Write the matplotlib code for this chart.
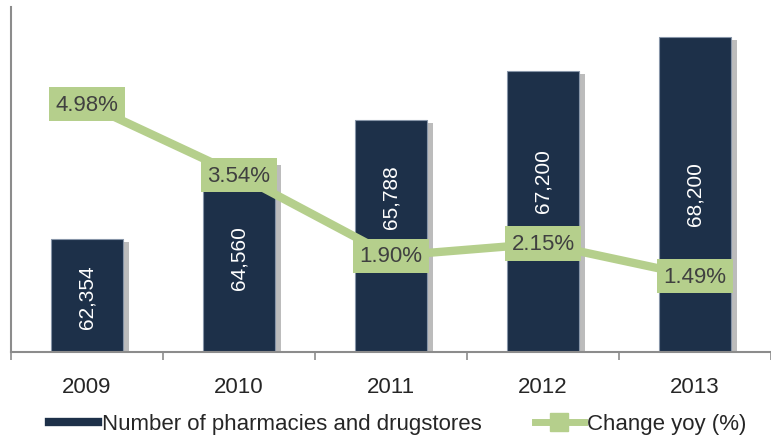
import numpy as np
import matplotlib.pyplot as plt
from matplotlib.lines import Line2D
import matplotlib.patheffects as pe
import matplotlib.transforms as mtransforms

plt.rcParams['font.family'] = ['Liberation Sans', 'DejaVu Sans']

# data
years = ['2009', '2010', '2011', '2012', '2013']
stores = [62354, 64560, 65788, 67200, 68200]
store_labels = ['62,354', '64,560', '65,788', '67,200', '68,200']
change = [4.98, 3.54, 1.90, 2.15, 1.49]

# where the value labels sit inside the bars (axes fraction, moved off the green boxes)
label_pos = [0.162, 0.275, 0.452, 0.499, 0.461]

NAVY = '#1d3049'
GREEN = '#b5cf8c'
GRAY = '#8c8c8c'

fig = plt.figure(figsize=(7.71, 4.39), dpi=100)
ax = fig.add_axes([10.8 / 771, 86 / 439, 760.2 / 771, 345 / 439])
x = np.arange(len(years))

bars = ax.bar(x, stores, width=0.476, color=NAVY, edgecolor='#8795a8', linewidth=0.8,
              zorder=2)
for b in bars:
    b.set_path_effects([pe.SimplePatchShadow(offset=(4, -2), shadow_rgbFace='#7a7a7a', alpha=0.5),
                        pe.Normal()])

ax.set_xlim(-0.5, 4.462)
ax.set_ylim(59090, 69060)

trans = mtransforms.blended_transform_factory(ax.transData, ax.transAxes)
for xi, lab, yp in zip(x, store_labels, label_pos):
    ax.text(xi, yp, lab, rotation=90, ha='center', va='center', transform=trans,
            color='white', fontsize=15, zorder=3)

for s in ['top', 'right']:
    ax.spines[s].set_visible(False)
ax.spines['left'].set_color(GRAY)
ax.spines['bottom'].set_color(GRAY)
ax.spines['left'].set_linewidth(1.5)
ax.spines['bottom'].set_linewidth(1.5)
ax.set_yticks([])
ax.set_xticks(x)
ax.set_xticklabels(years, fontsize=16, color='#262626')
ax.tick_params(axis='x', which='major', length=0, pad=17)
ax.set_xticks(np.arange(-0.5, 5, 1.0), minor=True)
ax.tick_params(axis='x', which='minor', length=6, width=1.2, color=GRAY, direction='out')

ax2 = ax.twinx()
ax2.plot(x, change, color=GREEN, lw=6, marker='s', markersize=14, zorder=3)
ax2.set_ylim(-0.05, 6.95)
ax2.set_yticks([])
for s in ax2.spines.values():
    s.set_visible(False)
for xi, v in zip(x, change):
    ax2.text(xi, v, f'{v:.2f}%', ha='center', va='center', fontsize=16, color='#404040',
             zorder=4,
             bbox=dict(boxstyle='square,pad=0.3', facecolor=GREEN, edgecolor='none'))

handles = [Line2D([], [], color=NAVY, lw=6),
           Line2D([], [], color=GREEN, lw=5, marker='s', markersize=13)]
fig.legend(handles, ['Number of pharmacies and drugstores', 'Change yoy (%)'],
           loc='center', bbox_to_anchor=(0.516, 1 - 425 / 439), ncol=2, frameon=False,
           fontsize=16, handlelength=2.2, handletextpad=0.15, columnspacing=2.4,
           labelcolor='#262626')

fig.savefig('out.png', dpi=100)
